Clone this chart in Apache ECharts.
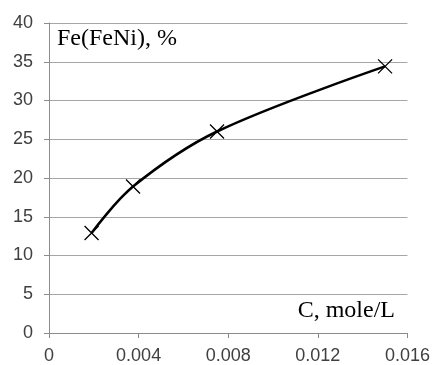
<!DOCTYPE html>
<html>
<head>
<meta charset="utf-8">
<script src="https://cdn.jsdelivr.net/npm/echarts@6/dist/echarts.min.js"></script>
<style>
  html, body { margin: 0; padding: 0; background: #fff; }
  #chart { width: 433px; height: 365px; }
</style>
</head>
<body>
<div id="chart"></div>
<script>
// concentration, mole/L
var concData = [0.0019, 0.00375, 0.0075, 0.015]
// Fe in FeNi, %
var feData = [12.9, 18.9, 26.0, 34.4]
var xTicks = [0, 0.004, 0.008, 0.012, 0.016]

var chart = echarts.init(document.getElementById('chart'))

var points = []
for (var i = 0; i < concData.length; i++) {
  points.push([concData[i], feData[i]])
}

chart.setOption({
  animation: false,
  grid: {
    left: 49,
    right: 21,
    top: 23,
    bottom: 31
  },
  xAxis: {
    type: 'value',
    min: xTicks[0],
    max: xTicks[xTicks.length - 1],
    interval: 0.004,
    axisLine: { lineStyle: { color: '#8c8c8c', width: 1 } },
    axisTick: { show: true, length: 5, lineStyle: { color: '#8c8c8c' } },
    splitLine: { show: false },
    axisLabel: {
      color: '#404040',
      fontFamily: 'Liberation Sans',
      fontSize: 18,
      margin: 14,
      formatter: function (v) {
        return v === 0 ? '0' : v.toFixed(3)
      }
    }
  },
  yAxis: {
    type: 'value',
    min: 0,
    max: 40,
    interval: 5,
    axisLine: { show: true, lineStyle: { color: '#8c8c8c', width: 1 } },
    axisTick: { show: true, length: 5, lineStyle: { color: '#8c8c8c' } },
    splitLine: { show: true, lineStyle: { color: '#a6a6a6', width: 1 } },
    axisLabel: {
      color: '#404040',
      fontFamily: 'Liberation Sans',
      fontSize: 18,
      margin: 16
    }
  },
  graphic: [
    {
      type: 'text',
      left: 57,
      top: 27,
      style: {
        text: 'Fe(FeNi), %',
        fill: '#000',
        font: '24px "Liberation Serif"'
      }
    },
    {
      type: 'text',
      right: 38,
      top: 299,
      style: {
        text: 'C, mole/L',
        fill: '#000',
        font: '24px "Liberation Serif"'
      }
    }
  ],
  series: [
    {
      type: 'line',
      data: points,
      smooth: 0.35,
      symbol: 'path://M0,0L10,10M10,0L0,10',
      symbolSize: 14,
      lineStyle: { color: '#000', width: 2.5 },
      itemStyle: { color: 'rgba(0,0,0,0)', borderColor: '#000', borderWidth: 1.3 }
    }
  ]
})
</script>
</body>
</html>
